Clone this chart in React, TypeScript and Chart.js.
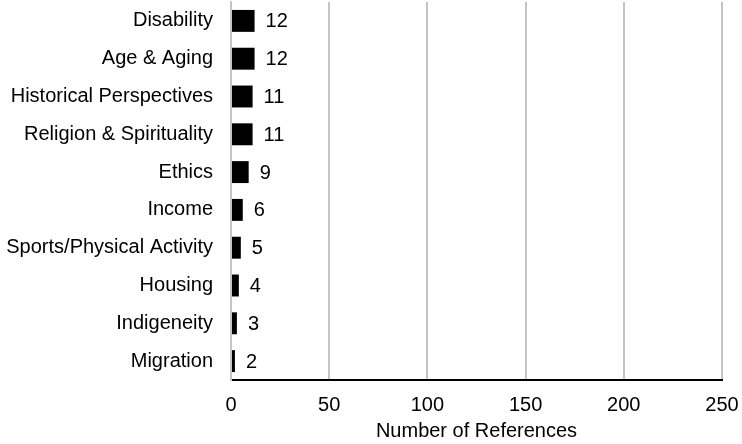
import React, { useEffect, useRef } from "react";
import { Chart, registerables } from "chart.js";

Chart.register(...registerables);

const categories: string[] = [
  "Disability",
  "Age & Aging",
  "Historical Perspectives",
  "Religion & Spirituality",
  "Ethics",
  "Income",
  "Sports/Physical Activity",
  "Housing",
  "Indigeneity",
  "Migration",
];
const references: number[] = [12, 12, 11, 11, 9, 6, 5, 4, 3, 2];
const xMin = 0;
const xMax = 250;
const xStep = 50;
const axisTitle = "Number of References";

const FONT = "'Liberation Sans', Arial, Helvetica, sans-serif";

const valueLabels = {
  id: "valueLabels",
  afterDatasetsDraw(chart: any) {
    const ctx = chart.ctx;
    const meta = chart.getDatasetMeta(0);
    ctx.save();
    ctx.font = `20px ${FONT}`;
    ctx.fillStyle = "#000";
    ctx.textAlign = "left";
    ctx.textBaseline = "middle";
    meta.data.forEach((bar: any, i: number) => {
      ctx.fillText(String(references[i]), bar.x + 11, bar.y + 1);
    });
    ctx.restore();
  },
};

export default function App() {
  const ref = useRef<HTMLCanvasElement | null>(null);
  useEffect(() => {
    if (!ref.current) return;
    const chart = new Chart(ref.current, {
      type: "bar",
      data: {
        labels: categories,
        datasets: [
          {
            data: references,
            backgroundColor: "#000",
            borderWidth: 0,
            categoryPercentage: 1,
            barPercentage: 0.58,
          },
        ],
      },
      plugins: [valueLabels],
      options: {
        indexAxis: "y",
        animation: false,
        responsive: false,
        layout: { autoPadding: false, padding: { top: 2, right: 20, bottom: 0, left: 0 } },
        plugins: { legend: { display: false }, tooltip: { enabled: false } },
        scales: {
          x: {
            min: xMin,
            max: xMax,
            ticks: {
              stepSize: xStep,
              padding: 13,
              maxRotation: 0,
              color: "#000",
              font: { family: FONT, size: 20, lineHeight: 1.2 },
            },
            grid: { color: "#c4c4c4", lineWidth: 2, drawTicks: false },
            border: { display: true, color: "#000", width: 2 },
            title: {
              display: true,
              text: axisTitle,
              color: "#000",
              font: { family: FONT, size: 20, lineHeight: 1 },
              padding: { top: 4, bottom: 3 },
            },
            afterFit: (scale: any) => {
              scale.height = 64;
              scale.paddingLeft = 0;
              scale.paddingRight = 0;
              scale.paddingTop = 0;
              scale.paddingBottom = 0;
            },
          },
          y: {
            ticks: {
              padding: 18,
              color: "#000",
              font: { family: FONT, size: 20, lineHeight: 1.2 },
            },
            grid: { display: false, drawTicks: false },
            border: { display: true, color: "#c4c4c4", width: 2 },
            afterFit: (scale: any) => {
              scale.width = 231;
              scale.paddingLeft = 0;
              scale.paddingRight = 0;
              scale.paddingTop = 0;
              scale.paddingBottom = 0;
            },
          },
        },
      },
    });
    return () => chart.destroy();
  }, []);
  return (
    <div style={{ position: "absolute", left: 0, top: 0, width: 742, height: 444, background: "#fff" }}>
      <canvas ref={ref} width={742} height={444} style={{ display: "block" }} />
    </div>
  );
}
